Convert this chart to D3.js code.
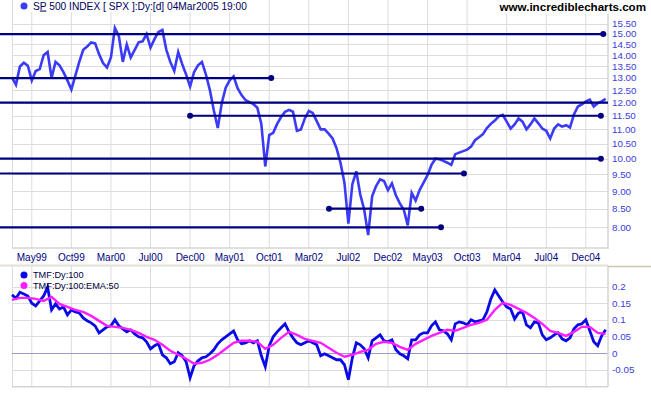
<!DOCTYPE html>
<html>
<head>
<meta charset="utf-8">
<script src="https://cdn.jsdelivr.net/npm/d3@7"></script>
<style>
body { margin: 0; background: #fff; }
svg { display: block; font-family: "Liberation Sans", Arial, sans-serif; }
</style>
</head>
<body>
<svg width="651" height="395"></svg>
<script>
// bars are two-week steps, ticks fall every 10 bars
var monthLabels = ['May99','Oct99','Mar00','Jul00','Dec00','May01','Oct01','Mar02',
  'Jul02','Dec02','May03','Oct03','Mar04','Jul04','Dec04'];
var monthBars = [5,15,25,35,45,55,65,75,85,95,105,115,125,135,145];

// S&P 500 / 100, one value per bar
var price = [
  13.03,12.72,13.50,13.66,13.53,12.90,13.30,13.38,14.00,14.15,
  13.00,13.70,13.55,13.25,12.90,12.52,13.10,13.70,14.25,14.40,
  14.60,14.55,14.05,13.65,13.45,13.90,15.30,14.90,13.70,14.50,
  13.90,14.25,14.60,14.65,15.00,14.35,14.75,15.10,15.20,14.25,
  13.70,13.30,14.15,13.60,13.15,12.65,13.25,13.55,13.70,13.15,
  12.50,11.70,11.05,11.98,12.60,12.90,13.07,12.58,12.30,12.10,
  12.02,11.94,11.80,11.20,9.75,10.80,10.88,11.20,11.45,11.65,
  11.72,11.65,10.95,11.00,11.40,11.68,11.60,11.30,11.00,11.00,
  10.85,10.68,10.35,9.87,9.25,8.10,9.20,9.60,8.90,8.47,
  7.80,8.85,9.15,9.35,9.30,9.03,9.23,8.88,8.65,8.47,
  8.05,8.95,8.73,9.03,9.25,9.48,9.80,10.00,9.98,9.93,
  9.87,9.80,10.15,10.20,10.25,10.30,10.40,10.62,10.72,10.83,
  11.05,11.20,11.32,11.48,11.53,11.28,11.03,11.18,11.40,11.28,
  11.00,11.18,11.40,11.22,11.03,10.95,10.68,11.03,11.18,11.10,
  11.15,11.07,11.55,11.85,11.93,12.05,12.12,11.85,11.98,12.05,
  12.15
];

// Twiggs money flow, one value per bar
var tmf = [
  0.175,0.165,0.183,0.178,0.172,0.150,0.142,0.157,0.172,0.198,
  0.130,0.148,0.133,0.139,0.115,0.130,0.124,0.121,0.106,0.097,
  0.091,0.082,0.061,0.070,0.079,0.082,0.100,0.082,0.073,0.064,
  0.070,0.058,0.049,0.046,0.034,0.013,0.022,0.028,-0.005,-0.014,
  -0.032,-0.026,0.001,-0.008,-0.026,-0.074,-0.038,-0.023,-0.014,-0.011,
  -0.002,0.010,0.028,0.040,0.049,0.058,0.067,0.040,0.028,0.031,
  0.037,0.031,0.037,-0.008,-0.041,0.022,0.049,0.064,0.076,0.088,
  0.064,0.046,0.031,0.025,0.031,0.037,0.031,0.025,-0.008,-0.002,
  -0.008,-0.014,-0.020,-0.020,-0.035,-0.080,-0.014,0.031,0.025,0.013,
  -0.014,0.037,0.046,0.055,0.037,0.034,0.040,0.010,-0.002,-0.008,
  -0.017,0.040,0.040,0.055,0.061,0.061,0.082,0.094,0.070,0.067,
  0.058,0.040,0.088,0.094,0.091,0.085,0.100,0.094,0.097,0.100,
  0.124,0.163,0.190,0.172,0.154,0.139,0.133,0.103,0.121,0.124,
  0.085,0.076,0.094,0.091,0.055,0.040,0.046,0.055,0.061,0.043,
  0.037,0.046,0.073,0.085,0.088,0.100,0.067,0.034,0.022,0.052,
  0.070
];

// TMF EMA(50), one value every second bar
var tmfEma = [
  0.160,0.166,0.166,0.163,0.157,0.169,0.148,0.139,0.130,0.124,
  0.112,0.097,0.082,0.079,0.076,0.070,0.061,0.049,0.040,0.025,
  0.007,-0.005,-0.017,-0.032,-0.029,-0.020,-0.005,0.013,0.031,0.037,
  0.037,0.034,0.013,0.025,0.046,0.064,0.055,0.043,0.037,0.031,
  0.016,0.001,-0.011,-0.005,0.004,0.010,0.028,0.034,0.031,0.019,
  0.010,0.028,0.040,0.052,0.061,0.070,0.067,0.076,0.085,0.091,
  0.100,0.130,0.151,0.145,0.133,0.121,0.106,0.088,0.067,0.061,
  0.052,0.064,0.079,0.079,0.061,0.058
];

var priceTicks = [8,8.5,9,9.5,10,10.5,11,11.5,12,12.5,13,13.5,14,14.5,15,15.5];
var tmfTicks = [-0.05,0,0.05,0.1,0.15,0.2];
var tmfTickLabels = ['-0.05','0','0.05','0.1','0.15','0.2'];

// drawn trend lines: level, start bar (null = left edge), end bar (null = right edge, no dot)
var lineLevels = [15, 13, 12, 11.5, 10, 9.53, 8.5, 8];
var lineStarts = [null, null, null, 45, null, null, 80.1, null];
var lineEnds = [149.4, 65.5, null, 148.8, 148.8, 114.2, 103.4, 108.4];

var svg = d3.select('svg');
var left = 12, right = 608;

var x = d3.scaleLinear().domain([0, 150.6]).range([left, right]);
var yP = d3.scaleLog().domain([7.48, 15.70]).range([248, 20]);
var yT = d3.scaleLinear().domain([-0.101, 0.256]).range([386.7, 268]);

var grid = '#dcdcdc';

// top panel grid
svg.selectAll('.vgTop').data(monthBars).enter().append('line')
  .attr('x1', function(d){ return x(d); }).attr('x2', function(d){ return x(d); })
  .attr('y1', 0).attr('y2', 248)
  .attr('stroke', grid).attr('stroke-width', 1);
svg.append('line').attr('x1', left + 0.5).attr('x2', left + 0.5).attr('y1', 0).attr('y2', 248)
  .attr('stroke', grid);
svg.selectAll('.hgTop').data(priceTicks).enter().append('line')
  .attr('x1', left).attr('x2', right)
  .attr('y1', function(d){ return Math.round(yP(d)) + 0.5; })
  .attr('y2', function(d){ return Math.round(yP(d)) + 0.5; })
  .attr('stroke', grid).attr('stroke-width', 1);
svg.append('line').attr('x1', right).attr('x2', right).attr('y1', 0).attr('y2', 249)
  .attr('stroke', '#d4d4d4').attr('stroke-width', 1.5);
svg.append('line').attr('x1', left).attr('x2', right).attr('y1', 248).attr('y2', 248)
  .attr('stroke', '#d4d4d4').attr('stroke-width', 1.5);

// bottom panel grid
svg.selectAll('.vgBot').data(monthBars).enter().append('line')
  .attr('x1', function(d){ return x(d); }).attr('x2', function(d){ return x(d); })
  .attr('y1', 266).attr('y2', 387)
  .attr('stroke', grid).attr('stroke-width', 1);
svg.append('line').attr('x1', left + 0.5).attr('x2', left + 0.5).attr('y1', 266).attr('y2', 387)
  .attr('stroke', grid);
svg.selectAll('.hgBot').data(tmfTicks).enter().append('line')
  .attr('x1', left).attr('x2', right)
  .attr('y1', function(d){ return Math.round(yT(d)) + 0.5; })
  .attr('y2', function(d){ return Math.round(yT(d)) + 0.5; })
  .attr('stroke', function(d){ return d === 0 ? '#9e9ac6' : grid; })
  .attr('stroke-width', 1);
svg.append('line').attr('x1', right).attr('x2', right).attr('y1', 266).attr('y2', 387)
  .attr('stroke', '#d4d4d4').attr('stroke-width', 1.5);
svg.append('line').attr('x1', left).attr('x2', right).attr('y1', 386.7).attr('y2', 386.7)
  .attr('stroke', '#d4d4d4').attr('stroke-width', 1.5);

// separator between panels
svg.append('line').attr('x1', 0).attr('x2', right).attr('y1', 265.5).attr('y2', 265.5)
  .attr('stroke', '#e2e0d4').attr('stroke-width', 2);
svg.append('line').attr('x1', right).attr('x2', 651).attr('y1', 266.5).attr('y2', 266.5)
  .attr('stroke', '#cbc6b2').attr('stroke-width', 1.5);

// price line
var priceLine = d3.line()
  .x(function(d, i){ return x(i); })
  .y(function(d){ return yP(d); });
svg.append('path').datum(price)
  .attr('d', priceLine)
  .attr('fill', 'none').attr('stroke', '#3b3bf7').attr('stroke-width', 2.6)
  .attr('stroke-linejoin', 'miter');

// trend lines
lineLevels.forEach(function(v, k){
  var x1 = lineStarts[k] === null ? 0 : x(lineStarts[k]);
  var x2 = lineEnds[k] === null ? right : x(lineEnds[k]);
  var yy = yP(v);
  svg.append('line').attr('x1', x1).attr('x2', x2).attr('y1', yy).attr('y2', yy)
    .attr('stroke', '#000080').attr('stroke-width', 2.2);
  if (lineStarts[k] !== null) {
    svg.append('circle').attr('cx', x1).attr('cy', yy).attr('r', 3).attr('fill', '#000080');
  }
  if (lineEnds[k] !== null) {
    svg.append('circle').attr('cx', x2).attr('cy', yy).attr('r', 3).attr('fill', '#000080');
  }
});

// TMF lines
var tmfLine = d3.line()
  .x(function(d, i){ return x(i); })
  .y(function(d){ return yT(d); });
var emaLine = d3.line()
  .x(function(d, i){ return x(i * 2); })
  .y(function(d){ return yT(d); });
svg.append('path').datum(tmf)
  .attr('d', tmfLine)
  .attr('fill', 'none').attr('stroke', '#0a0ae6').attr('stroke-width', 2.8);
svg.append('path').datum(tmfEma)
  .attr('d', emaLine)
  .attr('fill', 'none').attr('stroke', '#ff1eff').attr('stroke-width', 2.4);

// axis labels
svg.selectAll('.pLab').data(priceTicks).enter().append('text')
  .attr('x', 612).attr('y', function(d){ return yP(d); })
  .attr('dy', '0.35em')
  .attr('font-size', 9.8).attr('fill', '#3c3cdc')
  .text(function(d){ return d3.format('.2f')(d); });
svg.selectAll('.tLab').data(tmfTicks).enter().append('text')
  .attr('x', 612).attr('y', function(d){ return yT(d); })
  .attr('dy', '0.35em')
  .attr('font-size', 9.8).attr('fill', '#3c3cdc')
  .text(function(d, i){ return tmfTickLabels[i]; });
svg.selectAll('.xLab').data(monthBars).enter().append('text')
  .attr('x', function(d){ return x(d); }).attr('y', 257.5)
  .attr('dy', '0.35em')
  .attr('text-anchor', 'middle')
  .attr('font-size', 10).attr('fill', '#000080')
  .text(function(d, i){ return monthLabels[i]; });

// legends
svg.append('rect').attr('x', 13).attr('y', 0).attr('width', 230).attr('height', 12).attr('fill', '#fff');
svg.append('circle').attr('cx', 24).attr('cy', 6).attr('r', 3.5).attr('fill', '#3b3bf7');
var title = svg.append('text').attr('x', 33).attr('y', 6).attr('dy', '0.35em')
  .attr('font-size', 10.2).attr('fill', '#000060');
title.append('tspan').text('S');
title.append('tspan').attr('text-decoration', 'underline').text('P');
title.append('tspan').text(' 500 INDEX [ SPX ]:Dy:[d]  04Mar2005 19:00');

svg.append('rect').attr('x', 498).attr('y', 0).attr('width', 153).attr('height', 14).attr('fill', '#fff');
svg.append('text').attr('x', 646).attr('y', 7).attr('dy', '0.35em')
  .attr('text-anchor', 'end').attr('font-size', 11.6).attr('font-weight', 'bold')
  .attr('fill', '#000').text('www.incrediblecharts.com');

var lowLegend = ['TMF:Dy:100', 'TMF:Dy:100:EMA:50'];
var lowColors = ['#0a0ae6', '#ff1eff'];
lowLegend.forEach(function(t, k){
  var yy = 275 + k * 10.5;
  svg.append('circle').attr('cx', 24).attr('cy', yy).attr('r', 3.5).attr('fill', lowColors[k]);
  svg.append('text').attr('x', 33).attr('y', yy).attr('dy', '0.35em')
    .attr('font-size', 9.2).attr('fill', '#000040').text(t);
});
</script>
</body>
</html>
